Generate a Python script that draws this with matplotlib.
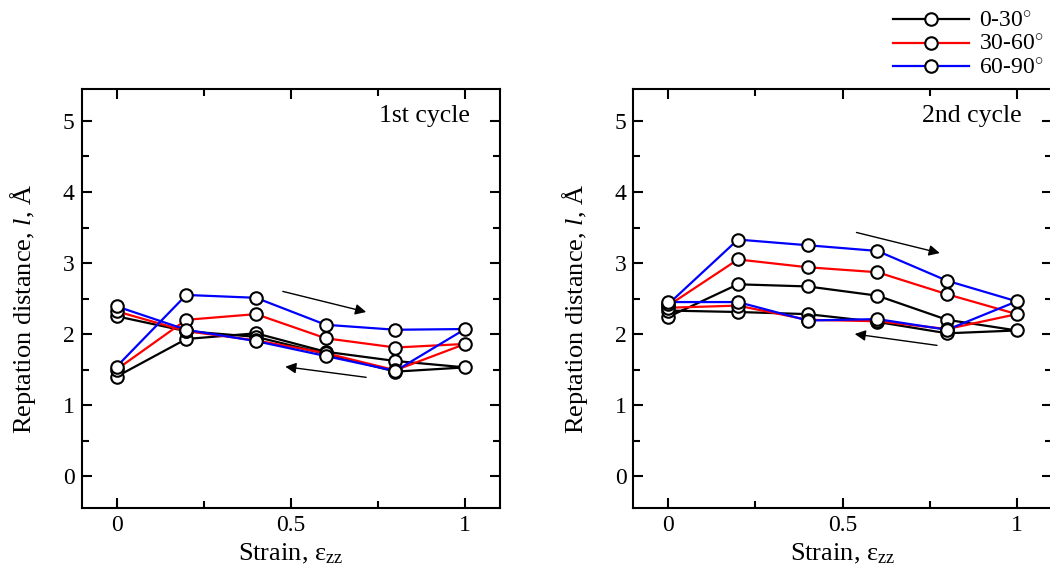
import matplotlib
matplotlib.use("Agg")
import matplotlib.pyplot as plt
from matplotlib.ticker import MultipleLocator

plt.rcParams['font.family'] = ['Liberation Serif', 'DejaVu Serif']
plt.rcParams['mathtext.fontset'] = 'custom'
plt.rcParams['mathtext.rm'] = 'Liberation Serif'
plt.rcParams['mathtext.it'] = 'Liberation Serif:italic'

# strain path: loading 0 -> 1, then unloading 1 -> 0
strain = [0, 0.2, 0.4, 0.6, 0.8, 1.0, 0.8, 0.6, 0.4, 0.2, 0]
labels = ["0-30$^{\\circ}$", "30-60$^{\\circ}$", "60-90$^{\\circ}$"]
colors = ["black", "red", "blue"]

# 1st cycle
c1_0_30 = [1.40, 1.93, 2.01, 1.75, 1.62, 1.53, 1.47, 1.72, 1.96, 2.04, 2.25]
c1_30_60 = [1.50, 2.20, 2.28, 1.94, 1.81, 1.86, 1.49, 1.73, 1.91, 2.04, 2.32]
c1_60_90 = [1.54, 2.55, 2.51, 2.13, 2.06, 2.07, 1.48, 1.69, 1.90, 2.06, 2.39]

# 2nd cycle
c2_0_30 = [2.24, 2.70, 2.67, 2.54, 2.20, 2.05, 2.01, 2.17, 2.28, 2.31, 2.33]
c2_30_60 = [2.40, 3.05, 2.94, 2.87, 2.56, 2.28, 2.07, 2.18, 2.20, 2.40, 2.37]
c2_60_90 = [2.42, 3.33, 3.25, 3.17, 2.75, 2.46, 2.06, 2.21, 2.19, 2.45, 2.45]

panels = [
    {"title": "1st cycle", "series": [c1_0_30, c1_30_60, c1_60_90],
     "arrows": [((0.477, 2.60), (0.716, 2.31)), ((0.716, 1.39), (0.484, 1.54))]},
    {"title": "2nd cycle", "series": [c2_0_30, c2_30_60, c2_60_90],
     "arrows": [((0.540, 3.43), (0.779, 3.14)), ((0.771, 1.84), (0.535, 2.00))]},
]


def style_axis(ax):
    ax.set_xlim(-0.1, 1.1)
    ax.set_ylim(-0.45, 5.45)
    ax.xaxis.set_major_locator(MultipleLocator(0.5))
    ax.xaxis.set_minor_locator(MultipleLocator(0.25))
    ax.yaxis.set_major_locator(MultipleLocator(1))
    ax.yaxis.set_minor_locator(MultipleLocator(0.5))
    ax.set_xticks([0, 0.5, 1])
    ax.set_xticklabels(["0", "0.5", "1"])
    ax.tick_params(which='both', direction='in', top=True, right=True,
                   width=1.5, labelsize=17, pad=5)
    ax.tick_params(which='major', length=7)
    ax.tick_params(which='minor', length=5)
    for sp in ax.spines.values():
        sp.set_linewidth(1.5)
    ax.set_xlabel("Strain, $\\mathregular{\\varepsilon_{zz}}$", fontsize=19, labelpad=4)
    ax.set_ylabel("Reptation distance, $l$, Å", fontsize=19)
    ax.yaxis.set_label_coords(-0.104, 0.475)


def draw_panel(ax, panel):
    handles = []
    for data, color, label in zip(panel["series"], colors, labels):
        h, = ax.plot(strain, data, color=color, linewidth=1.6, marker='o',
                     markersize=9, markerfacecolor='white',
                     markeredgecolor='black', markeredgewidth=1.5, label=label)
        handles.append(h)
    for start, end in panel["arrows"]:
        ax.annotate("", xy=end, xytext=start,
                    arrowprops=dict(arrowstyle='-|>', color='black', lw=1.0,
                                    mutation_scale=16, shrinkA=0, shrinkB=0))
    ax.text(0.928, 0.935, panel["title"], transform=ax.transAxes,
            ha='right', va='center', fontsize=18.5)
    style_axis(ax)
    return handles


def main():
    fig = plt.figure(figsize=(10.5, 5.7), dpi=100)
    ax1 = fig.add_axes([0.0778, 0.1088, 0.3984, 0.735])
    ax2 = fig.add_axes([0.6032, 0.1088, 0.3984, 0.735])
    handles = draw_panel(ax1, panels[0])
    draw_panel(ax2, panels[1])
    fig.legend(handles=handles, loc='upper right', bbox_to_anchor=(1.012, 1.014),
               frameon=False, fontsize=17, handlelength=3.2, handletextpad=0.45,
               labelspacing=0.08, borderpad=0.3, markerfirst=True)
    fig.savefig("out.png", dpi=100)
    plt.close(fig)
    return True


if __name__ == "__main__":
    main()
